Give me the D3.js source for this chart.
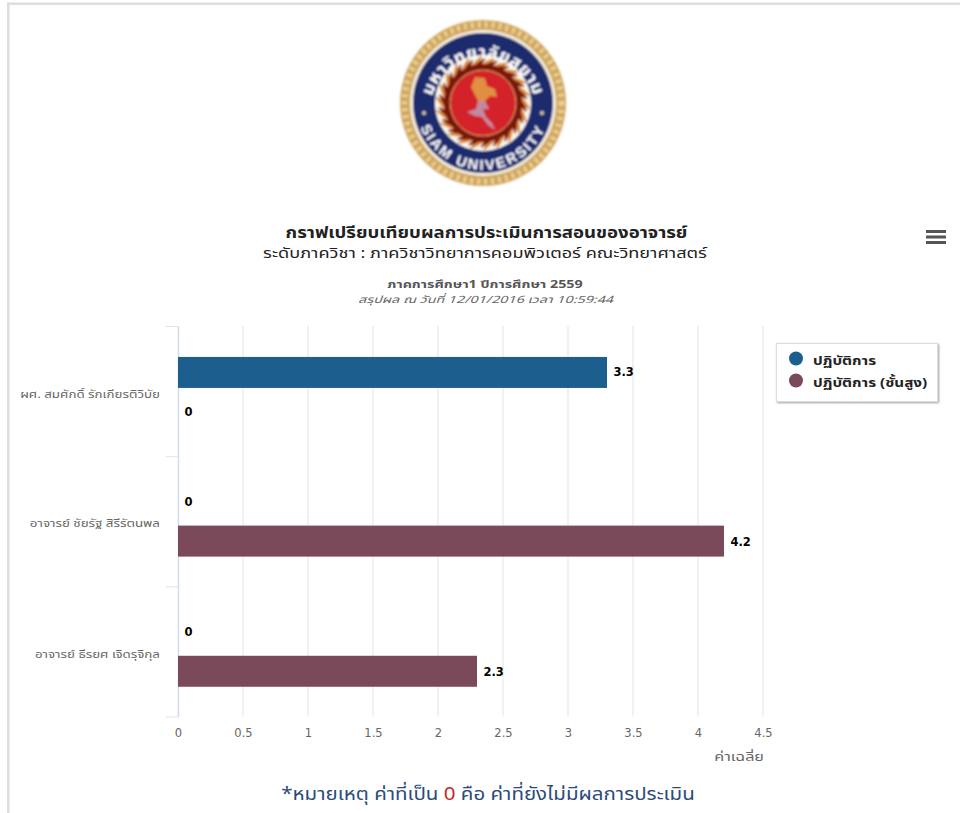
<!DOCTYPE html>
<html lang="th">
<head>
<meta charset="utf-8">
<title>กราฟเปรียบเทียบผลการประเมินการสอนของอาจารย์</title>
<script src="https://cdn.jsdelivr.net/npm/d3@7/dist/d3.min.js"></script>
<style>
  html, body { margin: 0; padding: 0; background: #fff; overflow: hidden; }
  svg { display: block; font-family: "Noto Sans Thai", "Noto Sans", "DejaVu Sans", "Liberation Sans", sans-serif; }
</style>
</head>
<body>
<svg id="chart" width="960" height="813"></svg>
<script>
// Lecturers on the category axis, series and their averages
const lecturers = ["ผศ. สมศักดิ์ รักเกียรติวิบัย", "อาจารย์ ชัยรัฐ สิรีรัตนพล", "อาจารย์ ธีรยศ เจิดรุจิกุล"];
const seriesNames = ["ปฏิบัติการ", "ปฏิบัติการ (ชั้นสูง)"];
const labValues = [3.3, 0, 0];
const advancedLabValues = [0, 4.2, 2.3];
const seriesColors = ["#1c5f8f", "#7a4a5a"];
const xTicks = [0, 0.5, 1, 1.5, 2, 2.5, 3, 3.5, 4, 4.5];

const svg = d3.select("#chart");
const defs = svg.append("defs");

// Thai glyphs are set wide: every label is stretched horizontally about its anchor
const wide = (sel, px, py, k) => sel.attr("transform", `translate(${px},${py}) scale(${k},1)`);

// Page frame
svg.append("rect").attr("x", 7).attr("y", 2.5).attr("width", 953).attr("height", 2.5).attr("fill", "#dedede");
svg.append("rect").attr("x", 7).attr("y", 2.5).attr("width", 2.5).attr("height", 811).attr("fill", "#dedede");

// Scales
const x = d3.scaleLinear().domain([0, 4.5]).range([178, 763]);
const y = d3.scaleBand().domain(lecturers).range([326, 716.5]);
const inner = d3.scaleBand().domain(seriesNames).range([0, y.bandwidth()])
  .paddingInner(0.195).paddingOuter(0.788).align(0.51);

// Vertical grid lines
svg.append("g").selectAll("line").data(xTicks.slice(1)).join("line")
  .attr("x1", d => x(d)).attr("x2", d => x(d))
  .attr("y1", 326).attr("y2", 716.5)
  .attr("stroke", "#ececec").attr("stroke-width", 1.5);

// Value axis
const xAxis = svg.append("g").attr("transform", "translate(0,716.5)")
  .call(d3.axisBottom(x).tickValues(xTicks).tickFormat(d3.format("~g")).tickSize(0).tickPadding(12));
xAxis.select(".domain").remove();
xAxis.selectAll("text").attr("fill", "#666").style("font-size", "11.5px").style("font-family", '"DejaVu Sans", sans-serif');

// Category axis
const yAxis = svg.append("g").attr("transform", "translate(178,0)")
  .call(d3.axisLeft(d3.scaleLinear().domain([0, 3]).range([326, 716.5])).tickValues([0, 1, 2, 3]).tickFormat("").tickSize(12).tickSizeOuter(0));
yAxis.select(".domain").attr("stroke", "#d3dce8").attr("stroke-width", 1.5);
yAxis.selectAll("line").attr("stroke", "#dfe3e8");
svg.append("g").selectAll("text").data(lecturers).join("text")
  .each(function (d, i) { wide(d3.select(this), 160, y(d) + [71.5, 71, 72][i], 1.27); })
  .attr("text-anchor", "end").attr("fill", "#666").style("font-size", "10.5px").text(d => d);

// Bars and value labels
const rows = [labValues, advancedLabValues];
const labelOffsets = [3.5, 5];
rows.forEach((values, s) => {
  const name = seriesNames[s];
  const g = svg.append("g");
  g.selectAll("rect").data(values).join("rect")
    .attr("x", x(0))
    .attr("y", (d, i) => y(lecturers[i]) + inner(name))
    .attr("width", d => x(d) - x(0))
    .attr("height", inner.bandwidth())
    .attr("fill", seriesColors[s]);
  g.selectAll("text").data(values).join("text")
    .attr("x", d => x(d) + 6.5)
    .attr("y", (d, i) => y(lecturers[i]) + inner(name) + inner.bandwidth() / 2 + labelOffsets[s])
    .attr("fill", "#000").style("font-size", "11.5px").style("font-weight", 700)
    .style("font-family", '"DejaVu Sans", sans-serif')
    .text(d => d);
});

// Axis title
wide(svg.append("text"), 764, 761, 1.35).attr("text-anchor", "end")
  .attr("fill", "#666").style("font-size", "12px").text("ค่าเฉลี่ย");

// Titles
const titles = [
  { t: "กราฟเปรียบเทียบผลการประเมินการสอนของอาจารย์", x: 486.5, y: 238, s: 15.5, k: 1.2, w: 700, c: "#222", st: "normal" },
  { t: "ระดับภาควิชา : ภาควิชาวิทยาการคอมพิวเตอร์ คณะวิทยาศาสตร์", x: 485, y: 258, s: 14, k: 1.295, w: 400, c: "#222", st: "normal" },
  { t: "ภาคการศึกษา1 ปีการศึกษา 2559", x: 485, y: 288, s: 10, k: 1.43, w: 700, c: "#555", st: "normal" },
  { t: "สรุปผล ณ วันที่ 12/01/2016 เวลา 10:59:44", x: 485.5, y: 302.5, s: 10, k: 1.43, w: 400, c: "#666", st: "italic" }
];
svg.append("g").selectAll("text").data(titles).join("text")
  .each(function (d) { wide(d3.select(this), d.x, d.y, d.k); })
  .attr("text-anchor", "middle")
  .attr("fill", d => d.c).style("font-size", d => d.s + "px").style("font-weight", d => d.w).style("font-style", d => d.st)
  .text(d => d.t);

// Context menu button
svg.append("g").selectAll("rect").data([0, 1, 2]).join("rect")
  .attr("x", 926).attr("y", d => 230 + d * 5.5).attr("width", 20).attr("height", 3).attr("fill", "#555");

// Legend
const legendShadow = defs.append("filter").attr("id", "legendShadow").attr("x", "-10%").attr("y", "-10%").attr("width", "120%").attr("height", "130%");
legendShadow.append("feDropShadow").attr("dx", 1).attr("dy", 1).attr("stdDeviation", 1).attr("flood-color", "#888").attr("flood-opacity", 0.8);
svg.append("rect").attr("x", 776.5).attr("y", 343.5).attr("width", 161).attr("height", 58)
  .attr("fill", "#fff").attr("stroke", "#ddd").attr("filter", "url(#legendShadow)");
const legend = svg.append("g").selectAll("g").data(seriesNames).join("g")
  .attr("transform", (d, i) => `translate(796,${358.5 + i * 22})`);
legend.append("circle").attr("r", 7).attr("fill", (d, i) => seriesColors[i]);
legend.each(function () { wide(d3.select(this).append("text"), 17, 6, 1.22); });
legend.select("text").attr("fill", "#222")
  .style("font-size", "12.5px").style("font-weight", 700).text(d => d);

// Footnote
const note = svg.append("text").attr("text-anchor", "middle")
  .attr("fill", "#2c4a7c").style("font-size", "18px");
wide(note, 488, 800, 1.14);
note.append("tspan").text("*หมายเหตุ ค่าที่เป็น ");
note.append("tspan").attr("fill", "#c0282c").text("0");
note.append("tspan").text(" คือ ค่าที่ยังไม่มีผลการประเมิน");

// University seal
const cx = 483, cy = 103;
const seal = svg.append("g").attr("transform", `translate(${cx},${cy})`);
const soft = defs.append("filter").attr("id", "soft").attr("x", "-10%").attr("y", "-10%").attr("width", "120%").attr("height", "120%");
soft.append("feGaussianBlur").attr("stdDeviation", 0.8);
seal.attr("filter", "url(#soft)");
seal.append("circle").attr("r", 83).attr("fill", "#cfa662");
seal.append("circle").attr("r", 78.5).attr("fill", "none").attr("stroke", "#ecd08f").attr("stroke-width", 6).attr("stroke-dasharray", "3 4");
seal.append("circle").attr("r", 73).attr("fill", "#f6efdf");
seal.append("circle").attr("r", 70).attr("fill", "#1f2a6e");
seal.append("circle").attr("r", 48).attr("fill", "#fbf7ee");

// Flame ring around the central disc: dark licks with orange tips
const flameCount = 22;
const flame = d3.lineRadial().curve(d3.curveBasisClosed);
seal.append("g").selectAll("path").data(d3.range(flameCount)).join("path")
  .attr("transform", d => `rotate(${d * 360 / flameCount})`)
  .attr("d", flame([[0, 34], [0.2, 40], [0.32, 50], [0.14, 44], [-0.1, 38]]))
  .attr("fill", "#d98a3a");
seal.append("g").selectAll("path").data(d3.range(flameCount)).join("path")
  .attr("transform", d => `rotate(${(d + 0.3) * 360 / flameCount})`)
  .attr("d", flame([[-0.1, 30], [0.16, 38], [0.3, 47], [0.12, 42], [-0.16, 36]]))
  .attr("fill", "#7d1208");
seal.append("circle").attr("r", 39).attr("fill", "#7a1208");
seal.append("circle").attr("r", 33).attr("fill", "#d4202c");
seal.append("circle").attr("r", 33).attr("fill", "none").attr("stroke", "#f0c878").attr("stroke-width", 0.8);
seal.append("path").attr("fill", "#e09040")
  .attr("d", "M-8,-26 L2,-25 L4,-17 L12,-14 L14,-6 L7,-7 L2,-2 L-5,-2 L-9,-10 L-12,-16 Z");
seal.append("path").attr("fill", "#c28aa0")
  .attr("d", "M-5,-2 L2,-2 L6,6 L0,6 L3,14 L9,20 L12,27 L5,22 L-1,14 L-8,13 L-16,9 L-7,6 Z");

// Small stars between the two arcs of lettering
seal.append("g").selectAll("circle").data([-1, 1]).join("circle")
  .attr("cx", d => d * 59).attr("cy", 10).attr("r", 2).attr("fill", "#d8c8a0");

// Curved seal lettering
defs.append("path").attr("id", "arcTop").attr("d", "M -52.5,4 A 52.6 52.6 0 0 1 52.5,4");
defs.append("path").attr("id", "arcBottom").attr("d", "M -67,0 A 67 67 0 0 0 67,0");
seal.append("text").attr("fill", "#fff").style("font-size", "17px").style("font-weight", 700).attr("text-anchor", "middle")
  .style("letter-spacing", "0.8px")
  .append("textPath").attr("href", "#arcTop").attr("startOffset", "50%").text("มหาวิทยาลัยสยาม");
seal.append("text").attr("fill", "#fff").style("font-size", "14.5px").style("font-weight", 700).attr("text-anchor", "middle")
  .style("font-family", '"Liberation Sans", sans-serif').style("letter-spacing", "2.2px")
  .append("textPath").attr("href", "#arcBottom").attr("startOffset", "50%").text("SIAM UNIVERSITY");
</script>
</body>
</html>
